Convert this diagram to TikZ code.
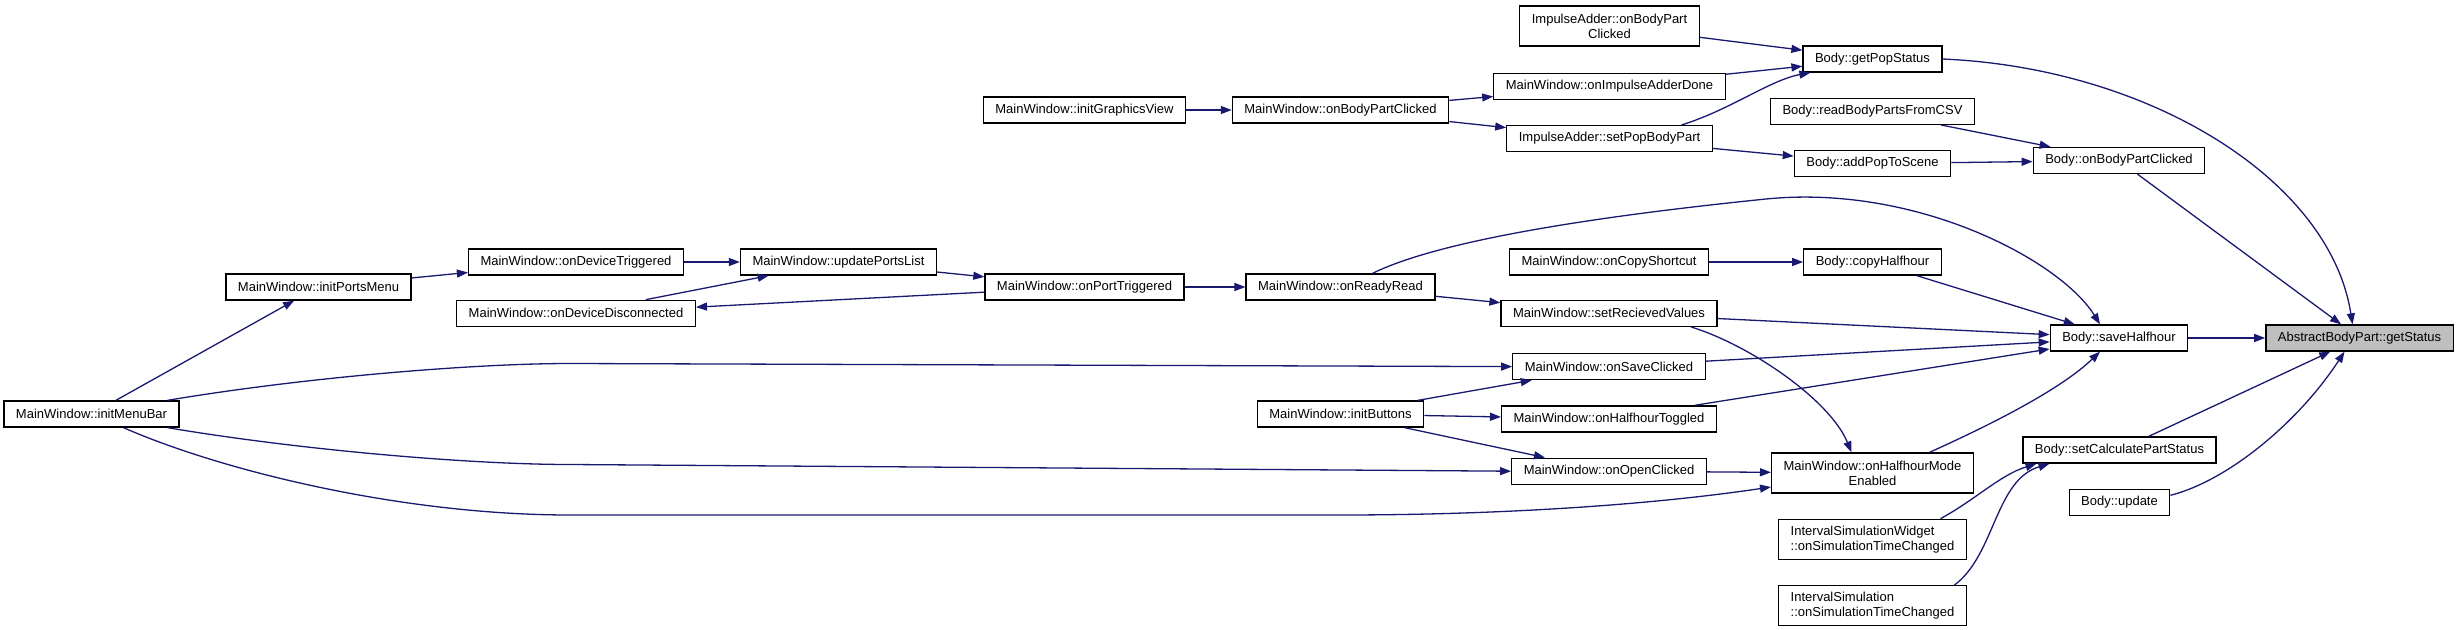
\documentclass[tikz,border=0pt]{standalone}
\usepackage{fontspec}
\setmainfont{Liberation Sans}
\usetikzlibrary{arrows.meta, positioning, calc}
\definecolor{edgeblue}{HTML}{191970}
\definecolor{rootgray}{HTML}{BFBFBF}

\begin{document}
\begin{tikzpicture}[
        x=1pt, y=-1pt,
        node distance=25pt,
        font=\fontsize{13}{15}\selectfont,
        func/.style={rectangle, draw=black, line width=1.3pt, fill=white, inner xsep=12pt, inner ysep=0pt, minimum height=26pt, align=center},
        functwo/.style={func, minimum height=40pt},
        funcleft/.style={functwo, align=left},
        root/.style={func, fill=rootgray},
        call/.style={-{Triangle[length=11pt, width=8pt]}, draw=edgeblue, line width=1.3pt}
    ]
        \useasboundingbox (0,0) rectangle (2459,629);

        \node[func] (initMenuBar) at (91.5,414) {MainWindow::initMenuBar};
        \node[func] (initPortsMenu) at (318.5,287) {MainWindow::initPortsMenu};
        \node[func] (onDeviceTriggered) at (576,262) {MainWindow::onDeviceTriggered};
        \node[func, below=24pt of onDeviceTriggered] (onDeviceDisconnected) {MainWindow::onDeviceDisconnected};
        \node[func] (updatePortsList) at (838.5,262) {MainWindow::updatePortsList};
        \node[func] (initGraphicsView) at (1084.5,110) {MainWindow::initGraphicsView};
        \node[func] (onPortTriggered) at (1084.5,287) {MainWindow::onPortTriggered};
        \node[func] (mwBodyPartClicked) at (1340.5,110) {MainWindow::onBodyPartClicked};
        \node[func] (onReadyRead) at (1340.5,287) {MainWindow::onReadyRead};
        \node[func] (initButtons) at (1340.5,414) {MainWindow::initButtons};

        \node[functwo] (iaBodyPartClicked) at (1609.5,26) {ImpulseAdder::onBodyPart\\Clicked};
        \node[func, below=26pt of iaBodyPartClicked] (onImpulseAdderDone) {MainWindow::onImpulseAdderDone};
        \node[func, below=of onImpulseAdderDone] (setPopBodyPart) {ImpulseAdder::setPopBodyPart};
        \node[func] (onCopyShortcut) at (1609,262) {MainWindow::onCopyShortcut};
        \node[func, below=24pt of onCopyShortcut] (setRecievedValues) {MainWindow::setRecievedValues};
        \node[func, below=26pt of setRecievedValues] (onSaveClicked) {MainWindow::onSaveClicked};
        \node[func, below=of onSaveClicked] (onHalfhourToggled) {MainWindow::onHalfhourToggled};
        \node[func, below=of onHalfhourToggled] (onOpenClicked) {MainWindow::onOpenClicked};

        \node[func] (getPopStatus) at (1872.5,59) {Body::getPopStatus};
        \node[func, below=of getPopStatus] (readBodyParts) {Body::readBodyPartsFromCSV};
        \node[func, below=of readBodyParts] (addPopToScene) {Body::addPopToScene};
        \node[func] (copyHalfhour) at (1872.5,262) {Body::copyHalfhour};
        \node[functwo] (halfhourModeEnabled) at (1872.5,473) {MainWindow::onHalfhourMode\\Enabled};
        \node[funcleft, below=of halfhourModeEnabled] (simWidget) {IntervalSimulationWidget\\::onSimulationTimeChanged};
        \node[funcleft, below=of simWidget] (simulation) {IntervalSimulation\\::onSimulationTimeChanged};

        \node[func] (bodyPartClicked) at (2119,160.5) {Body::onBodyPartClicked};
        \node[func] (saveHalfhour) at (2119,338) {Body::saveHalfhour};
        \node[func] (setCalcStatus) at (2119.5,450) {Body::setCalculatePartStatus};
        \node[func, below=of setCalcStatus] (update) {Body::update};

        \node[root] (getStatus) at (2359.5,338) {AbstractBodyPart::getStatus};

        \draw[call] (initGraphicsView) -- (mwBodyPartClicked);
        \draw[call] (mwBodyPartClicked) -- (onImpulseAdderDone);
        \draw[call] (mwBodyPartClicked) -- (setPopBodyPart);
        \draw[call] (iaBodyPartClicked) -- (getPopStatus);
        \draw[call] (onImpulseAdderDone) -- (getPopStatus);
        \draw[call] ([xshift=72pt]setPopBodyPart.north) .. controls (1730,110) and (1770,80) .. ([xshift=8pt]getPopStatus.south west);
        \draw[call] (setPopBodyPart) -- (addPopToScene);
        \draw[call] (readBodyParts) -- (bodyPartClicked);
        \draw[call] (addPopToScene) -- (bodyPartClicked);
        \draw[call] (getPopStatus.east) .. controls (2150,68) and (2330,180) .. ([xshift=-7pt]getStatus.north);
        \draw[call] (bodyPartClicked) -- (getStatus);

        \draw[call] (initMenuBar) -- (initPortsMenu);
        \draw[call] (initPortsMenu) -- (onDeviceTriggered);
        \draw[call] (onDeviceTriggered) -- (updatePortsList);
        \draw[call] (onDeviceDisconnected) -- (updatePortsList);
        \draw[call] (updatePortsList) -- (onPortTriggered);
        \draw[call] (onPortTriggered) -- (onDeviceDisconnected);
        \draw[call] (onPortTriggered) -- (onReadyRead);
        \draw[call] ([xshift=32pt]onReadyRead.north) .. controls (1430,245) and (1560,220) .. (1766,199) .. controls (1916,184) and (2060,260) .. ([xshift=-19pt]saveHalfhour.north);
        \draw[call] (onReadyRead) -- (setRecievedValues);
        \draw[call] (onCopyShortcut) -- (copyHalfhour);
        \draw[call] (copyHalfhour) -- (saveHalfhour);
        \draw[call] (setRecievedValues) -- (saveHalfhour);
        \draw[call] ([xshift=82pt]setRecievedValues.south) .. controls (1750,345) and (1830,400) .. ([xshift=-21pt]halfhourModeEnabled.north);

        \draw[call] ([xshift=76pt]initMenuBar.north) .. controls (300,378) and (470,363.5) .. (570,363.5) -- (onSaveClicked.west);
        \draw[call] ([xshift=76pt]initMenuBar.south) .. controls (300,450) and (470,464.5) .. (570,464.5) -- (onOpenClicked.west);
        \draw[call] ([xshift=32pt]initMenuBar.south) .. controls (220,470) and (400,515) .. (570,515) -- (1340,515) .. controls (1500,515) and (1650,505) .. ([yshift=-14pt]halfhourModeEnabled.west);
        \draw[call] (initButtons) -- (onSaveClicked);
        \draw[call] (initButtons) -- (onHalfhourToggled);
        \draw[call] (initButtons) -- (onOpenClicked);
        \draw[call] (onSaveClicked) -- (saveHalfhour);
        \draw[call] (onHalfhourToggled) -- (saveHalfhour);
        \draw[call] (onOpenClicked) -- (halfhourModeEnabled);
        \draw[call] ([xshift=57pt]halfhourModeEnabled.north) .. controls (1990,425) and (2060,390) .. ([xshift=-19pt]saveHalfhour.south);

        \draw[call] (saveHalfhour) -- (getStatus);
        \draw[call] (setCalcStatus) -- (getStatus);
        \draw[call] ([yshift=7pt]update.east) .. controls (2230,480) and (2300,420) .. ([xshift=-15pt]getStatus.south);
        \draw[call] ([xshift=68pt]simWidget.north) .. controls (1975,500) and (2000,475) .. ([xshift=-83pt]setCalcStatus.south);
        \draw[call] ([xshift=82pt]simulation.north) .. controls (1995,555) and (1995,480) .. ([xshift=-70pt]setCalcStatus.south);
    \end{tikzpicture}
\end{document}
